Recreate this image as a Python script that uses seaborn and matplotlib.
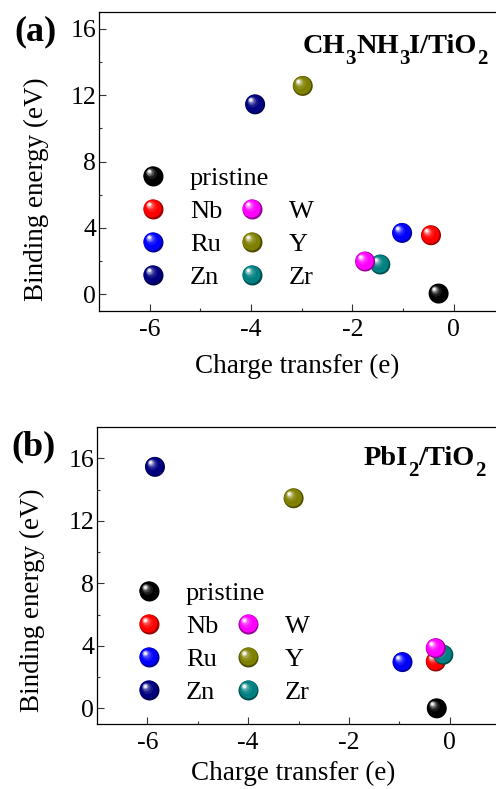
import numpy as np
import matplotlib
matplotlib.use("Agg")
import matplotlib.pyplot as plt
import matplotlib.colors as mcolors
from matplotlib.transforms import offset_copy
from matplotlib.legend_handler import HandlerBase
from matplotlib.lines import Line2D
import seaborn as sns

# ---------------- data ----------------
elements = ["pristine", "Nb", "Ru", "Zn", "Y", "Zr", "W"]
colors = ["#000000", "#ff0000", "#0000ff", "#000080", "#808000", "#008080", "#ff00ff"]

# panel (a) CH3NH3I/TiO2
charge_a = [-0.30, -0.45, -1.02, -3.92, -2.98, -1.45, -1.75]
energy_a = [0.05, 3.56, 3.70, 11.44, 12.55, 1.80, 1.98]

# panel (b) PbI2/TiO2
charge_b = [-0.26, -0.28, -0.94, -5.85, -3.10, -0.13, -0.28]
energy_b = [0.00, 3.00, 2.96, 15.45, 13.44, 3.43, 3.85]

xticks = [-6, -4, -2, 0]
yticks = [0, 4, 8, 12, 16]

legend_col1 = ["pristine", "Nb", "Ru", "Zn"]
legend_col2 = ["W", "Y", "Zr"]

title_a = [("CH", False), ("3", True), ("NH", False), ("3", True), ("I/TiO", False), ("2", True)]
title_b = [("PbI", False), ("2", True), ("/TiO", False), ("2", True)]

# ---------------- style ----------------
sns.set_theme(style="ticks")
plt.rcParams["font.family"] = ["Liberation Serif", "DejaVu Serif"]
for key in ["text.color", "axes.labelcolor", "xtick.labelcolor", "ytick.labelcolor",
            "axes.edgecolor"]:
    plt.rcParams[key] = "black"

D = 14.4  # sphere diameter in points


def sphere_layers(color):
    base = np.array(mcolors.to_rgb(color))
    layers = []
    dark = base * 0.6
    layers.append((1.0, tuple(dark), 0.0))
    layers.append((0.90, tuple(base), 0.03))
    hl = [(0.55, 0.10, 0.12), (0.40, 0.28, 0.16), (0.30, 0.50, 0.19),
          (0.21, 0.75, 0.21), (0.13, 0.97, 0.22)]
    for frac, t, off in hl:
        c = base * (1 - t) + np.ones(3) * t
        layers.append((frac, tuple(np.clip(c, 0, 1)), off))
    return layers


def draw_sphere(ax, fig, x, y, color, z):
    for k, (frac, c, off) in enumerate(sphere_layers(color)):
        tr = offset_copy(ax.transData, fig=fig, x=-off * D, y=off * D, units="points")
        sns.scatterplot(x=[x], y=[y], s=(frac * D) ** 2, color=c, edgecolor="none",
                        linewidth=0, transform=tr, zorder=z + k * 0.01, ax=ax,
                        legend=False, clip_on=False)


class SphereHandler(HandlerBase):
    def create_artists(self, legend, orig_handle, xdescent, ydescent,
                       width, height, fontsize, trans):
        col = orig_handle.get_color()
        cx = width / 2 - xdescent
        cy = height / 2 - ydescent
        if col == "none":
            return [Line2D([cx], [cy], ls="none", marker="none", transform=trans)]
        arts = []
        for frac, c, off in sphere_layers(col):
            ln = Line2D([cx - off * D], [cy + off * D], marker="o", ms=frac * D,
                        mfc=c, mec="none", ls="none", transform=trans)
            arts.append(ln)
        return arts


fig = plt.figure(figsize=(4.96, 7.89), dpi=100)
W, H = 496.0, 789.0
renderer = fig.canvas.get_renderer()


def draw_formula(pieces, x0, base_px, main_size=20.4, sub_size=15, drop=11):
    x = x0
    for s, sub in pieces:
        y = base_px + (drop if sub else 0)
        t = fig.text(x / W, 1 - y / H, s, ha="left", va="baseline",
                     fontsize=sub_size if sub else main_size, fontweight="bold")
        bb = t.get_window_extent(renderer)
        x += bb.width


# axes positions in pixels: left, right, top, bottom
ax_a = fig.add_axes([99 / W, 1 - 311 / H, (504.5 - 99) / W, (311 - 12) / H])
ax_b = fig.add_axes([97 / W, 1 - 724 / H, (500.3 - 97) / W, (724 - 427) / H])

panels = [
    (ax_a, charge_a, energy_a, (-1, 17), title_a, "(a)",
     (303, 53), (36 / W, 1 - 32 / H), (0.1006, 0.4836), (0.345, 0.4836),
     (0.488, -0.187), (-0.155, 0.408)),
    (ax_b, charge_b, energy_b, (-1, 18), title_b, "(b)",
     (364, 465), (33.5 / W, 1 - 447 / H), (0.096, 0.4787), (0.342, 0.4787),
     (0.486, -0.165), (-0.159, 0.417)),
]

for (ax, cx, ey, ylim, title, plabel, tpos, ppos, leg1, leg2, xl, yl) in panels:
    for i, (xv, yv) in enumerate(zip(cx, ey)):
        draw_sphere(ax, fig, xv, yv, colors[i], 3 + i * 0.1)

    ax.set_xlim(-7, 1)
    ax.set_ylim(*ylim)
    ax.set_xticks(xticks)
    ax.set_xticks([-5, -3, -1], minor=True)
    ax.set_yticks(yticks)
    ax.set_yticks([2, 6, 10, 14], minor=True)
    ax.set_xticklabels([str(t) for t in xticks])
    ax.set_yticklabels([str(t) for t in yticks])
    ax.tick_params(axis="both", which="major", direction="in", length=5, width=0.8,
                   labelsize=18.5, color="#333333")
    ax.tick_params(axis="both", which="minor", direction="in", length=2.5, width=0.8,
                   color="#333333")
    ax.tick_params(axis="x", which="major", pad=6)
    ax.tick_params(axis="y", which="major", pad=2)
    for sp in ax.spines.values():
        sp.set_linewidth(0.9)
        sp.set_color("black")
    ax.set_facecolor("white")

    ax.set_xlabel("Charge transfer (e)", fontsize=19.5)
    ax.set_ylabel("Binding energy (eV)", fontsize=19.5)
    ax.xaxis.set_label_coords(*xl)
    ax.yaxis.set_label_coords(*yl)
    ax.xaxis.label.set_va("center")
    ax.yaxis.label.set_va("center")
    ax.yaxis.label.set_ha("center")
    ax.yaxis.label.set_rotation_mode("default")

    draw_formula(title, tpos[0], tpos[1])
    fig.text(ppos[0], ppos[1], plabel, ha="center", va="center", fontsize=26,
             fontweight="bold")

    # legends
    h1 = [Line2D([], [], color=colors[elements.index(n)]) for n in legend_col1]
    h2 = [Line2D([], [], color="none")] + \
         [Line2D([], [], color=colors[elements.index(n)]) for n in legend_col2]
    l2labels = [" "] + legend_col2
    common = dict(frameon=False, fontsize=19, handlelength=1.0, handletextpad=0.9,
                  labelspacing=0.36, borderpad=0, borderaxespad=0, loc="upper left",
                  handler_map={Line2D: SphereHandler()})
    lg1 = ax.legend(h1, legend_col1, bbox_to_anchor=leg1, **common)
    ax.add_artist(lg1)
    ax.legend(h2, l2labels, bbox_to_anchor=leg2, **common)

fig.savefig("out.png", dpi=100)
